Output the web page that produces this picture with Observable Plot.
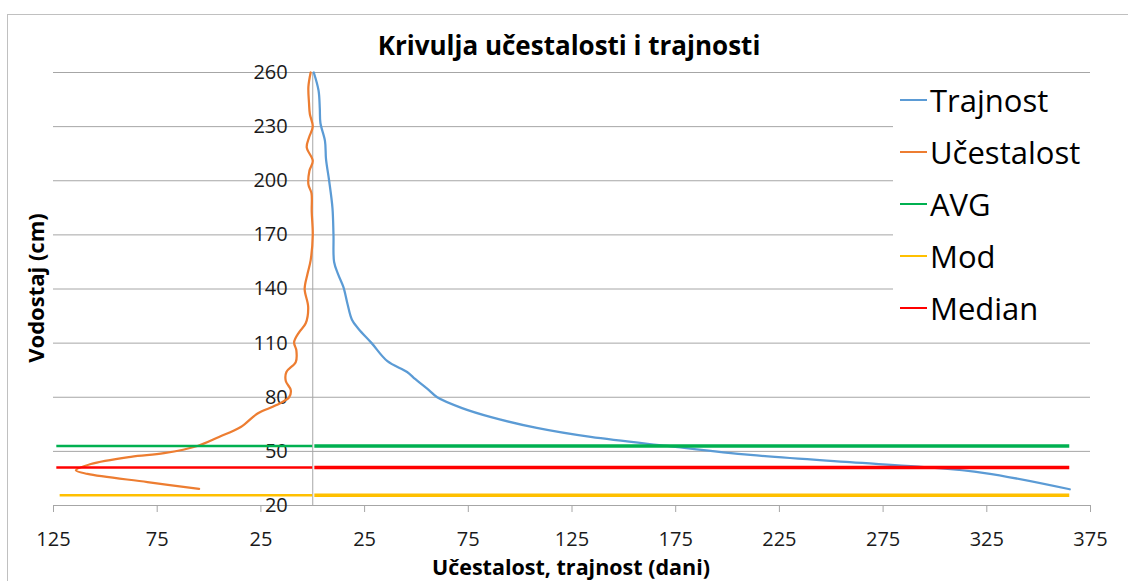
<!DOCTYPE html>
<html>
<head>
<meta charset="utf-8">
<script src="https://cdn.jsdelivr.net/npm/d3@7"></script>
<script src="https://cdn.jsdelivr.net/npm/@observablehq/plot@0.6"></script>
<style>
  html, body { margin: 0; padding: 0; background: #fff; }
  #chart { position: relative; width: 1128px; height: 581px; overflow: hidden; font-family: "Open Sans", sans-serif; }
  #frame { position: absolute; left: 7px; top: 14px; right: -5px; bottom: -5px; border-left: 1.5px solid #c0c0c0; border-top: 1.5px solid #c0c0c0; }
  #plot { position: absolute; left: 0; top: 0; }
  .title { position: absolute; font-weight: 700; color: #000; white-space: nowrap; line-height: 1; }
  #legend { position: absolute; left: 893px; top: 76px; width: 197px; height: 258px; background: #fff; }
  .item { position: absolute; left: 7px; height: 40px; display: flex; align-items: center; font-size: 31px; line-height: 1; color: #000; }
  .swatch { width: 27px; height: 2px; margin-right: 3px; }
</style>
</head>
<body>
<div id="chart">
  <div id="frame"></div>
  <div id="plot"></div>
  <div class="title" id="t1" style="left:569px; top:45px; transform:translate(-50%,-50%); font-size:26px;">Krivulja učestalosti i trajnosti</div>
  <div class="title" id="t2" style="left:35px; top:288px; transform:translate(-50%,-50%) rotate(-90deg); font-size:22px;">Vodostaj (cm)</div>
  <div class="title" id="t3" style="left:571px; top:567px; transform:translate(-50%,-50%); font-size:21.5px;">Učestalost, trajnost (dani)</div>
  <div id="legend"></div>
</div>
<script>
// ---- data ----
const xDomain = [-125, 375];
const yDomain = [20, 260];
const xTicks = [-125, -75, -25, 25, 75, 125, 175, 225, 275, 325, 375];
const yTicks = [20, 50, 80, 110, 140, 170, 200, 230, 260];

// Trajnost (duration, days) vs water level (cm)
const trajLevel = [260, 250, 240, 232, 222, 212, 200, 185, 170, 155, 148, 141, 132, 123, 118, 110, 100, 94, 90, 84, 80, 74, 69, 63, 58, 53, 48, 44, 41.5, 38, 29];
const trajDays  = [0.5, 2.8, 3.4, 3.7, 5.9, 6.4, 7.9, 9.5, 10, 10.3, 12.3, 14.8, 16.7, 18.9, 22, 28.4, 36, 45.5, 49.5, 56, 60, 72, 86, 108, 134, 171, 211, 259, 292, 324, 365];

// Učestalost (frequency, days) vs water level (cm), drawn to the left of zero
const freqLevel = [260, 252, 243, 237, 230, 224, 218.5, 211, 205.5, 198, 193, 183, 170, 156, 148, 140, 130, 121, 116, 110.5, 106, 99.5, 94, 89, 84, 80, 75.5, 71, 63.5, 58, 53, 49, 47, 43, 39.5, 37.5, 33, 29.2];
const freqDays  = [1, 2.1, 1.8, 1.4, 0, 1.8, 2.9, 0, 1.6, 2.1, 0.6, 0.5, 0, 1, 2.6, 3.9, 2.2, 3.4, 6.6, 9, 7.9, 8.2, 12.7, 13, 10.6, 11.4, 17.8, 26.6, 34.7, 45.2, 55.6, 71.7, 87.7, 107, 114.2, 108.6, 79.7, 54.8];

// Statistic levels (cm)
const statNames  = ["AVG", "Mod", "Median"];
const statLevels = [53, 25.7, 41];
const statLeft   = [-123.4, -121.8, -123.4];
const statRight  = [365, 365, 365];

const seriesNames  = ["Trajnost", "Učestalost", "AVG", "Mod", "Median"];
const seriesColors = ["#5B9BD5", "#ED7D31", "#00B050", "#FFC000", "#FF0000"];

// ---- build ----
const color = n => seriesColors[seriesNames.indexOf(n)];
const traj = trajLevel.map((l, i) => ({level: l, days: trajDays[i]}));
const freq = freqLevel.map((l, i) => ({level: l, days: -freqDays[i]}));
const stats = statNames.map((n, i) => ({name: n, level: statLevels[i], left: statLeft[i], right: statRight[i], color: color(n)}));

const grid = "#a6a6a6";
const txt = "#1a1a1a";

const plot = Plot.plot({
  width: 1128,
  height: 581,
  marginLeft: 53,
  marginRight: 38,
  marginTop: 72,
  marginBottom: 76,
  x: {domain: xDomain},
  y: {domain: yDomain, axis: null},
  style: {fontFamily: "Open Sans", background: "transparent", color: txt},
  marks: [
    Plot.ruleY(yTicks, {y: d => d, x1: xDomain[0], x2: xDomain[1], stroke: grid, strokeWidth: 1}),
    Plot.ruleX([0], {y1: yDomain[0], y2: yDomain[1], stroke: grid, strokeWidth: 1}),
    Plot.axisX({ticks: xTicks, tickSize: 7, tickPadding: 19, tickFormat: d => String(Math.abs(d)), stroke: grid, fill: txt, fontSize: 20, label: null}),
    Plot.text(yTicks, {x: 0, y: d => d, text: d => String(d), textAnchor: "end", dx: -25, fontSize: 20, fill: txt}),
    Plot.line(traj, {x: "days", y: "level", curve: "catmull-rom", stroke: color("Trajnost"), strokeWidth: 2.25}),
    Plot.line(freq, {x: "days", y: "level", curve: "catmull-rom", stroke: color("Učestalost"), strokeWidth: 2.25}),
    Plot.ruleY(stats, {y: "level", x1: "left", x2: 0, stroke: "color", strokeWidth: 2.5}),
    Plot.ruleY(stats, {y: "level", x1: 1, x2: "right", stroke: "color", strokeWidth: 3.5})
  ]
});
document.getElementById("plot").appendChild(plot);

// legend
const legend = document.getElementById("legend");
seriesNames.forEach((n, i) => {
  const it = document.createElement("div");
  it.className = "item";
  it.style.top = (4 + i * 52) + "px";
  const sw = document.createElement("span");
  sw.className = "swatch";
  sw.style.background = seriesColors[i];
  const lb = document.createElement("span");
  lb.textContent = n;
  it.appendChild(sw);
  it.appendChild(lb);
  legend.appendChild(it);
});
</script>
</body>
</html>
